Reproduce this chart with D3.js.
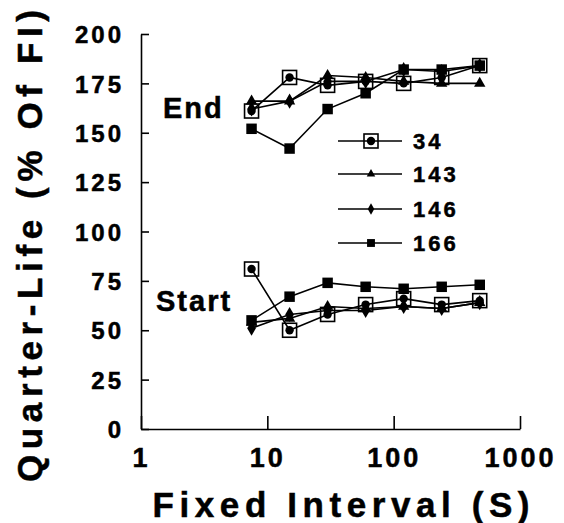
<!DOCTYPE html>
<html>
<head>
<meta charset="utf-8">
<script src="https://cdn.jsdelivr.net/npm/d3@7"></script>
<style>
  body { margin: 0; background: #fff; }
  svg { display: block; }
  text { font-family: "Liberation Sans", Arial, sans-serif; font-weight: bold; fill: #000; stroke: #000; stroke-width: 0.5px; }
</style>
</head>
<body>
<div id="chart"></div>
<script>
// Fixed interval values (s)
var intervals = [7.5, 15, 30, 60, 120, 240, 480];
var subjects = ["34", "143", "146", "166"];
var markers = ["boxdot", "triangle", "diamond", "square"];

// quarter-life at the end of training (% of FI)
var end34  = [161, 178, 174, 176, 175, 178, 184];
var end143 = [166, 166, 179, 178, 176, 175, 175];
var end146 = [162, 166, 176, 176, 182, 181, 184];
var end166 = [152, 142, 162, 170, 182, 182, 184];

// quarter-life at the start of training (% of FI)
var start34  = [81, 50, 58, 63, 66, 63, 65];
var start143 = [54, 56, 62, 61, 62, 61, 64];
var start146 = [51, 58, 60, 60, 62, 61, 64];
var start166 = [55, 67, 74, 72, 71, 72, 73];

var yTicks = [0, 25, 50, 75, 100, 125, 150, 175, 200];
var xTicks = [1, 10, 100, 1000];

var W = 564, H = 523;

var svg = d3.select("#chart").append("svg")
  .attr("width", W)
  .attr("height", H);

var x = d3.scaleLog().domain([1, 1000]).range([141, 520]);
var y = d3.scaleLinear().domain([0, 200]).range([429, 34]);

// axes
var yAxis = d3.axisLeft(y)
  .tickValues(yTicks)
  .tickSizeInner(-8)
  .tickSizeOuter(0)
  .tickPadding(17);

var gy = svg.append("g")
  .attr("transform", "translate(141,0)")
  .call(yAxis);
gy.selectAll("text")
  .style("font-size", "24px")
  .style("letter-spacing", "3px")
  .attr("dy", "0.36em");

var xAxis = d3.axisBottom(x)
  .tickValues(xTicks)
  .tickFormat(d3.format("d"))
  .tickSizeInner(-13)
  .tickSizeOuter(0)
  .tickPadding(19);

var gx = svg.append("g")
  .attr("transform", "translate(0,429)")
  .call(xAxis);
gx.selectAll("text")
  .style("font-size", "27px")
  .style("letter-spacing", "3px");

svg.selectAll(".domain, .tick line")
  .attr("stroke", "#000")
  .attr("stroke-width", 1.6);

// axis titles
svg.append("text")
  .attr("x", 341)
  .attr("y", 517)
  .attr("text-anchor", "middle")
  .attr("textLength", 377)
  .attr("lengthAdjust", "spacing")
  .style("font-size", "35px")
  .text("Fixed Interval (S)");

svg.append("text")
  .attr("transform", "translate(42,246) rotate(-90)")
  .attr("text-anchor", "middle")
  .attr("textLength", 472)
  .attr("lengthAdjust", "spacing")
  .style("font-size", "35px")
  .text("Quarter-Life (% Of FI)");

// phase labels
svg.append("text")
  .attr("x", 163).attr("y", 118)
  .style("font-size", "29px")
  .style("letter-spacing", "2px")
  .text("End");

svg.append("text")
  .attr("x", 156).attr("y", 311)
  .style("font-size", "29px")
  .style("letter-spacing", "2px")
  .text("Start");

function drawMarker(g, kind, cx, cy, s) {
  s = s || 1;
  if (kind === "boxdot") {
    g.append("rect")
      .attr("x", cx - 7 * s).attr("y", cy - 7 * s)
      .attr("width", 14 * s).attr("height", 14 * s)
      .attr("fill", "none")
      .attr("stroke", "#000")
      .attr("stroke-width", 1.6);
    g.append("circle")
      .attr("cx", cx).attr("cy", cy).attr("r", 4.2 * s)
      .attr("fill", "#000");
  } else {
    var sym = kind === "triangle" ? d3.symbolTriangle
            : kind === "diamond" ? d3.symbolDiamond : d3.symbolSquare;
    var size = kind === "triangle" ? 56 : kind === "diamond" ? 66 : 110;
    g.append("path")
      .attr("transform", "translate(" + cx + "," + cy + ")")
      .attr("d", d3.symbol().type(sym).size(size * s * s)())
      .attr("fill", "#000");
  }
}

var line = d3.line()
  .x(function(d) { return x(d[0]); })
  .y(function(d) { return y(d[1]); });

var groups = [
  [end34, start34], [end143, start143], [end146, start146], [end166, start166]
];

var plot = svg.append("g");
groups.forEach(function(pair, i) {
  pair.forEach(function(vals) {
    var pts = intervals.map(function(v, j) { return [v, vals[j]]; });
    plot.append("path")
      .attr("d", line(pts))
      .attr("fill", "none")
      .attr("stroke", "#000")
      .attr("stroke-width", 1.6);
  });
});
groups.forEach(function(pair, i) {
  pair.forEach(function(vals) {
    intervals.forEach(function(v, j) {
      drawMarker(plot, markers[i], x(v), y(vals[j]), 1);
    });
  });
});

// legend
var legY = [141, 174, 209, 243];
var leg = svg.append("g");
subjects.forEach(function(s, i) {
  leg.append("line")
    .attr("x1", 338).attr("x2", 402)
    .attr("y1", legY[i]).attr("y2", legY[i])
    .attr("stroke", "#000")
    .attr("stroke-width", 1.4);
  drawMarker(leg, markers[i], 371, legY[i], i === 0 ? 1 : 0.75);
  leg.append("text")
    .attr("x", 413).attr("y", legY[i])
    .attr("dy", "0.36em")
    .style("font-size", "22px")
    .style("letter-spacing", "3px")
    .text(s);
});
</script>
</body>
</html>
